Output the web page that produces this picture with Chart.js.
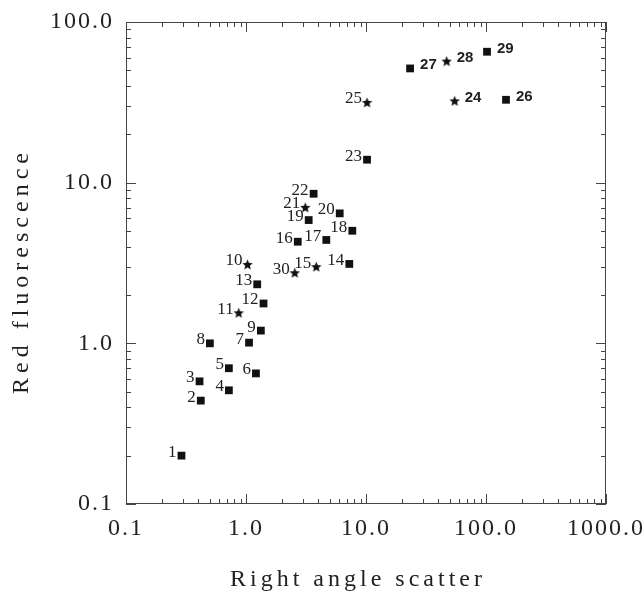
<!DOCTYPE html>
<html lang="en">
<head>
<meta charset="UTF-8">
<title>Red fluorescence vs right angle scatter</title>
<script src="https://cdn.jsdelivr.net/npm/chart.js"></script>
<style>
  body { margin: 0; background: #fff; }
  canvas { display: block; }
</style>
</head>
<body>
<canvas id="myChart" width="643" height="591"></canvas>
<script>
// sample numbers
const pointIds = [1, 2, 3, 4, 5, 6, 7, 8, 9, 10,
                  11, 12, 13, 14, 15, 16, 17, 18, 19, 20,
                  21, 22, 23, 24, 25, 26, 27, 28, 29, 30];
const scatterValues = [0.29, 0.42, 0.41, 0.72, 0.72, 1.21, 1.06, 0.50, 1.33, 1.03,
                       0.87, 1.40, 1.24, 7.26, 3.85, 2.70, 4.67, 7.69, 3.33, 6.04,
                       3.12, 3.66, 10.2, 54.8, 10.2, 146.8, 23.3, 47.0, 102, 2.55];
const fluorescenceValues = [0.20, 0.44, 0.58, 0.51, 0.70, 0.65, 1.01, 1.00, 1.20, 3.10,
                            1.55, 1.77, 2.33, 3.12, 3.00, 4.29, 4.40, 5.02, 5.85, 6.44,
                            7.02, 8.53, 13.9, 32.3, 31.6, 32.8, 51.4, 57.1, 65.3, 2.75];
// which samples are drawn with a star, the rest are squares
const starIds = [10, 11, 15, 21, 24, 25, 28, 30];
// samples whose number sits on the right of the mark
const rightLabelIds = [24, 26, 27, 28, 29];

// axis ticks
const decadeTicks = [0.1, 1, 10, 100, 1000];
const minorSteps = [2, 3, 4, 5, 6, 7, 8, 9];

function allTicks(min, max) {
  let list = [];
  for (let d of decadeTicks) {
    if (d >= min && d <= max) list.push(d);
    for (let m of minorSteps) {
      let v = +(d * m).toPrecision(3);
      if (v > min && v < max) list.push(v);
    }
  }
  return list.sort((a, b) => a - b);
}

function isDecade(v) {
  return decadeTicks.some(d => Math.abs(d - v) < 1e-9);
}

// filled 5 point star used as point style
function makeStar(size) {
  const c = document.createElement('canvas');
  c.width = size; c.height = size;
  const g = c.getContext('2d');
  const R = size / 2, r = R * 0.45;
  g.beginPath();
  for (let i = 0; i < 10; i++) {
    let a = -Math.PI / 2 + i * Math.PI / 5;
    let rr = i % 2 == 0 ? R : r;
    g.lineTo(R + rr * Math.cos(a), R + 0.5 + rr * Math.sin(a));
  }
  g.closePath();
  g.fillStyle = '#111';
  g.fill();
  return c;
}

let squarePts = [], starPts = [];
for (let i = 0; i < pointIds.length; i++) {
  let p = { x: scatterValues[i], y: fluorescenceValues[i], id: pointIds[i] };
  if (starIds.includes(pointIds[i])) starPts.push(p); else squarePts.push(p);
}

const textColor = '#222';
const frameColor = '#444';

// frame + inward ticks on all four sides, point numbers, axis titles
const decorPlugin = {
  id: 'decor',
  beforeUpdate(chart) { chart.ctx.letterSpacing = '2px'; },
  beforeDraw(chart) { chart.ctx.letterSpacing = '2px'; },
  afterDatasetsDraw(chart) {
    const ctx = chart.ctx;
    const a = chart.chartArea;
    const xs = chart.scales.x, ys = chart.scales.y;
    ctx.save();
    ctx.strokeStyle = frameColor;
    ctx.lineWidth = 1;
    ctx.strokeRect(a.left + 0.5, a.top + 0.5, a.right - a.left - 1, a.bottom - a.top - 1);
    ctx.beginPath();
    for (let t of xs.ticks) {
      let px = Math.round(xs.getPixelForValue(t.value)) + 0.5;
      let len = isDecade(t.value) ? 10 : 5;
      ctx.moveTo(px, a.bottom); ctx.lineTo(px, a.bottom - len);
      ctx.moveTo(px, a.top); ctx.lineTo(px, a.top + len);
    }
    for (let t of ys.ticks) {
      let py = Math.round(ys.getPixelForValue(t.value)) + 0.5;
      let len = isDecade(t.value) ? 10 : 5;
      ctx.moveTo(a.left, py); ctx.lineTo(a.left + len, py);
      ctx.moveTo(a.right, py); ctx.lineTo(a.right - len, py);
    }
    ctx.stroke();

    // numbers next to the marks
    ctx.fillStyle = textColor;
    ctx.textBaseline = 'alphabetic';
    chart.data.datasets.forEach((ds, di) => {
      const meta = chart.getDatasetMeta(di);
      meta.data.forEach((el, j) => {
        const id = ds.data[j].id;
        if (rightLabelIds.includes(id)) {
          ctx.font = 'bold 15px "Liberation Sans", sans-serif';
          ctx.letterSpacing = '0px';
          ctx.textAlign = 'left';
          ctx.fillText(String(id), el.x + 10, el.y + 1);
        } else {
          ctx.font = '17px "Liberation Serif", serif';
          ctx.letterSpacing = '0px';
          ctx.textAlign = 'right';
          ctx.fillText(String(id), el.x - 5, el.y + 1);
        }
      });
    });

    // axis titles
    ctx.font = '24px "Liberation Serif", serif';
    ctx.textAlign = 'center';
    ctx.textBaseline = 'middle';
    ctx.letterSpacing = '4px';
    ctx.fillText('Right angle scatter', 358, 580);
    ctx.translate(22, 271);
    ctx.rotate(-Math.PI / 2);
    ctx.letterSpacing = '5px';
    ctx.fillText('Red fluorescence', 0, 0);
    ctx.restore();
  }
};

const tickFont = { family: '"Liberation Serif", serif', size: 24 };

const config = {
  type: 'scatter',
  data: {
    datasets: [{
      label: 'squares',
      data: squarePts,
      pointStyle: 'rect',
      pointRadius: 5.5,
      pointHoverRadius: 5.5,
      backgroundColor: '#111',
      borderWidth: 0
    }, {
      label: 'stars',
      data: starPts,
      pointStyle: makeStar(11),
      pointRadius: 5.5,
      backgroundColor: '#111',
      borderWidth: 0
    }]
  },
  options: {
    responsive: false,
    animation: false,
    layout: { padding: { top: 22, right: 37, left: 0, bottom: 0 } },
    plugins: {
      legend: { display: false },
      tooltip: { enabled: false }
    },
    scales: {
      x: {
        type: 'logarithmic',
        min: 0.1,
        max: 1000,
        grid: { display: false, drawTicks: false },
        border: { display: false },
        afterBuildTicks(scale) { scale.ticks = allTicks(0.1, 1000).map(v => ({ value: v })); },
        afterFit(scale) {
          scale.height = 87;
          scale.paddingLeft = 0;
          scale.paddingRight = 0;
        },
        ticks: {
          autoSkip: false,
          maxRotation: 0,
          padding: 10,
          color: textColor,
          font: tickFont,
          callback: v => isDecade(v) ? Number(v).toFixed(1) : ''
        }
      },
      y: {
        type: 'logarithmic',
        min: 0.1,
        max: 100,
        grid: { display: false, drawTicks: false },
        border: { display: false },
        afterBuildTicks(scale) { scale.ticks = allTicks(0.1, 100).map(v => ({ value: v })); },
        afterFit(scale) {
          scale.width = 126;
          scale.paddingTop = 0;
          scale.paddingBottom = 0;
        },
        ticks: {
          autoSkip: false,
          padding: 12,
          color: textColor,
          font: tickFont,
          callback: v => isDecade(v) ? Number(v).toFixed(1) : ''
        }
      }
    }
  },
  plugins: [decorPlugin]
};

let myChart = new Chart(document.getElementById('myChart'), config);
</script>
</body>
</html>
